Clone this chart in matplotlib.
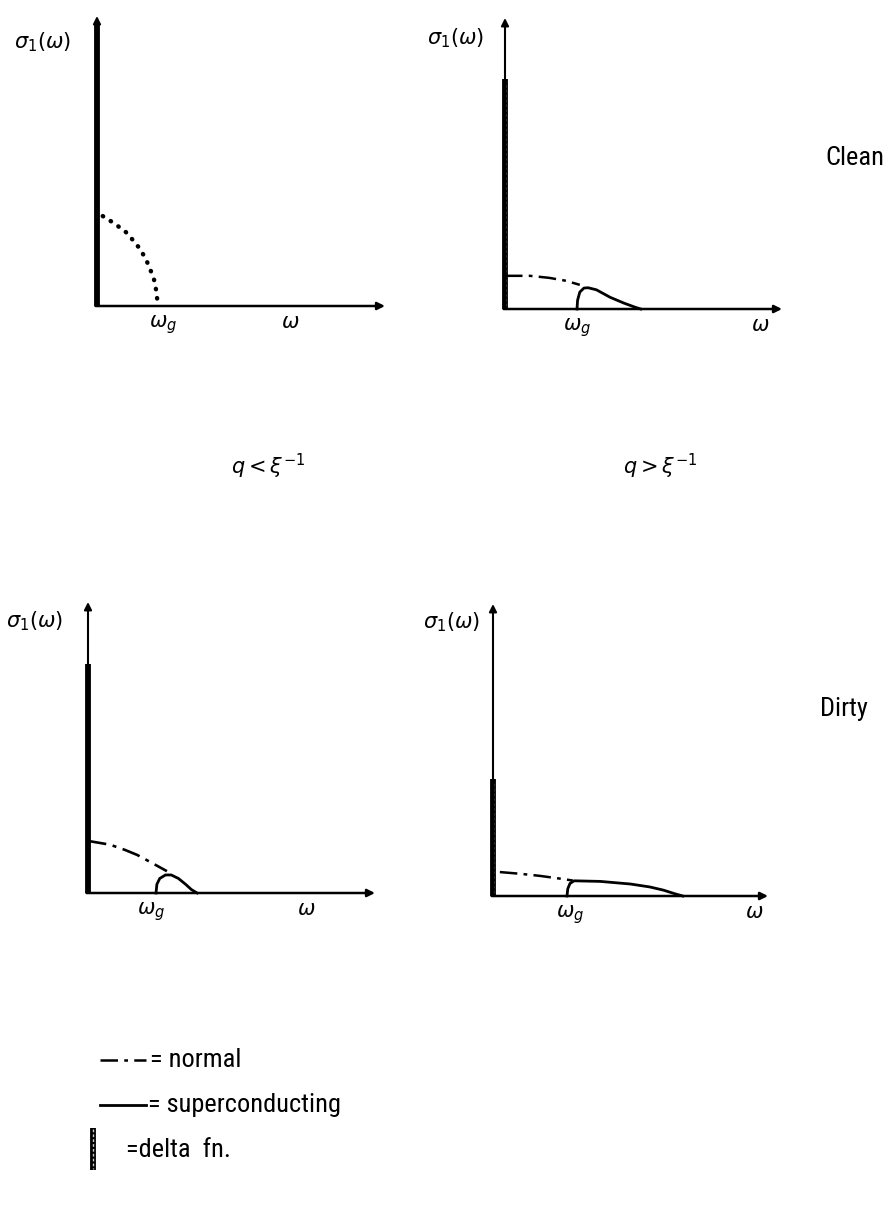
import matplotlib
matplotlib.use("Agg")
import matplotlib.pyplot as plt
from matplotlib import font_manager

W, H = 885, 1218

# pick a narrow font if one is installed
names = {f.name for f in font_manager.fontManager.ttflist}
FONT = "DejaVu Sans"
for cand in ["Liberation Sans Narrow", "DejaVu Sans Condensed", "Roboto Condensed", "Open Sans Condensed"]:
    if cand in names:
        FONT = cand
        break
plt.rcParams["font.family"] = FONT
plt.rcParams["mathtext.fontset"] = "dejavusans"

# ---------------------------------------------------------------------------
# data (omega and sigma in units of each panel's axis length)
# ---------------------------------------------------------------------------
# clean, q < 1/xi
p1_normal_w = [0.02, 0.06, 0.10, 0.125, 0.15, 0.17, 0.185, 0.198, 0.205, 0.212]
p1_normal_s = [0.31, 0.285, 0.255, 0.227, 0.196, 0.161, 0.126, 0.091, 0.056, 0.0]
p1_delta = 0.98

# clean, q > 1/xi
p2_normal_w = [0.0, 0.09, 0.16, 0.22, 0.27]
p2_normal_s = [0.114, 0.114, 0.107, 0.097, 0.083]
p2_super_w = [0.26, 0.262, 0.27, 0.285, 0.30, 0.33, 0.38, 0.43, 0.47, 0.49]
p2_super_s = [0.0, 0.03, 0.058, 0.072, 0.073, 0.066, 0.04, 0.02, 0.006, 0.0]
p2_delta = 0.79

# dirty, q < 1/xi
p3_normal_w = [0.0, 0.077, 0.129, 0.171, 0.216, 0.275]
p3_normal_s = [0.179, 0.166, 0.148, 0.131, 0.107, 0.075]
p3_super_w = [0.237, 0.24, 0.25, 0.27, 0.29, 0.315, 0.34, 0.36, 0.38]
p3_super_s = [0.0, 0.03, 0.05, 0.062, 0.062, 0.05, 0.03, 0.012, 0.0]
p3_delta = 0.786

# dirty, q > 1/xi
p4_normal_w = [0.025, 0.10, 0.17, 0.24, 0.29]
p4_normal_s = [0.082, 0.076, 0.069, 0.060, 0.053]
p4_super_w = [0.269, 0.272, 0.28, 0.295, 0.39, 0.50, 0.57, 0.62, 0.66, 0.69]
p4_super_s = [0.0, 0.025, 0.043, 0.052, 0.050, 0.041, 0.031, 0.020, 0.008, 0.0]
p4_delta = 0.40

gap_w = [0.23, 0.26, 0.22, 0.28]      # where the omega_g label sits
omega_w = [0.67, 0.92, 0.76, 0.95]    # where the omega label sits


def to_fig(x, y):
    return x / W, 1 - y / H


def panel(left, right, bottom, top):
    ax = fig.add_axes([left / W, 1 - bottom / H, (right - left) / W, (bottom - top) / H])
    ax.set_xlim(0, 1)
    ax.set_ylim(0, 1)
    ax.axis("off")
    arrow = dict(arrowstyle="-|>", lw=1.8, color="k", mutation_scale=11, shrinkA=0, shrinkB=0)
    ax.annotate("", xy=(1.0, 0), xytext=(-0.005, 0), arrowprops=arrow, annotation_clip=False)
    ax.annotate("", xy=(0, 1.0), xytext=(0, 0), arrowprops=dict(arrow, lw=1.5), annotation_clip=False)
    return ax


def delta(ax, h, hollow):
    ax.plot([0, 0], [0, h], color="k", lw=4.2, solid_capstyle="butt", clip_on=False)
    if hollow:
        ax.plot([0, 0], [0.01, h - 0.01], color="#c8c8c8", lw=1.0, ls=(0, (2, 1.5)), clip_on=False)


fig = plt.figure(figsize=(W / 100, H / 100), dpi=100)

DASHDOT = (0, (7, 2.5, 1.5, 2.5))

# panel 1
ax1 = panel(97, 385, 306, 16)
delta(ax1, p1_delta, False)
ax1.plot(p1_normal_w, p1_normal_s, color="k", lw=3.2, ls=(0, (0.1, 2.0)),
         dash_capstyle="round", clip_on=False)

# panel 2
ax2 = panel(505, 782, 309, 18)
delta(ax2, p2_delta, True)
ax2.plot(p2_normal_w, p2_normal_s, color="k", lw=1.8, ls=DASHDOT, clip_on=False)
ax2.plot(p2_super_w, p2_super_s, color="k", lw=2.0, clip_on=False)

# panel 3
ax3 = panel(88, 375, 893, 602)
delta(ax3, p3_delta, False)
ax3.plot(p3_normal_w, p3_normal_s, color="k", lw=1.9, ls=DASHDOT, clip_on=False)
ax3.plot(p3_super_w, p3_super_s, color="k", lw=2.0, clip_on=False)

# panel 4
ax4 = panel(493, 768, 896, 604)
delta(ax4, p4_delta, True)
ax4.plot(p4_normal_w, p4_normal_s, color="k", lw=1.8, ls=DASHDOT, clip_on=False)
ax4.plot(p4_super_w, p4_super_s, color="k", lw=2.0, clip_on=False)

# axis labels
for ax, gw, ow in zip([ax1, ax2, ax3, ax4], gap_w, omega_w):
    ax.text(gw, -0.025, r"$\omega_g$", ha="center", va="top", fontsize=15)
    ax.text(ow, -0.025, r"$\omega$", ha="center", va="top", fontsize=15)

for x, y in [(43, 42), (456, 38), (35, 621), (452, 622)]:
    fx, fy = to_fig(x, y)
    fig.text(fx, fy, r"$\sigma_1(\omega)$", ha="center", va="center", fontsize=15)

for txt, x, y in [(r"$q<\xi^{-1}$", 268, 466), (r"$q>\xi^{-1}$", 660, 466)]:
    fx, fy = to_fig(x, y)
    fig.text(fx, fy, txt, ha="center", va="center", fontsize=15)

for txt, x, y in [("Clean", 825, 158), ("Dirty", 820, 709)]:
    fx, fy = to_fig(x, y)
    fig.text(fx, fy, txt, ha="left", va="center", fontsize=19)

# legend
leg = fig.add_axes([90 / W, 1 - 1180 / H, 280 / W, 140 / H])
leg.set_xlim(0, 280)
leg.set_ylim(140, 0)
leg.axis("off")
leg.plot([10, 56], [20, 20], color="k", lw=1.8, ls=DASHDOT)
leg.text(60, 20, "= normal", va="center", fontsize=19)
leg.plot([10, 56], [65, 65], color="k", lw=2.0)
leg.text(58, 65, "= superconducting", va="center", fontsize=19)
leg.plot([3, 3], [88, 130], color="k", lw=4.2, solid_capstyle="butt")
leg.plot([3, 3], [89, 129], color="#c8c8c8", lw=1.0, ls=(0, (2, 1.5)))
leg.text(36, 110, "=delta  fn.", va="center", fontsize=19)

fig.savefig("out.png", dpi=100)
